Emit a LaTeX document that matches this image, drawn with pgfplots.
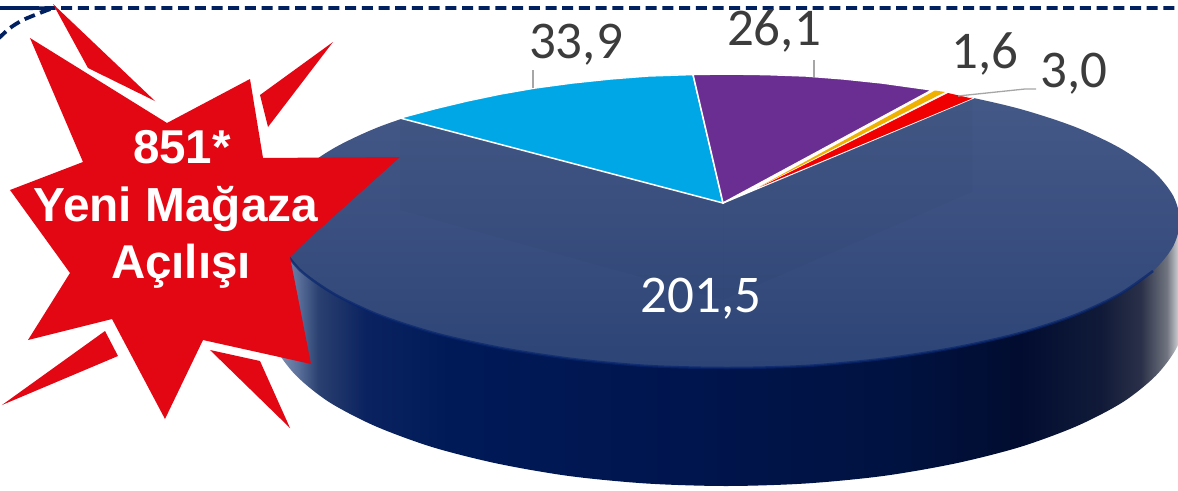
\documentclass[border=0pt]{standalone}
\usepackage{pgfplots}
\pgfplotsset{compat=1.18}
\usepackage{fontspec}
\setmainfont{Carlito}
\newfontfamily\arialf{Liberation Sans}
\definecolor{starred}{HTML}{E30613}
\definecolor{dashblue}{HTML}{002060}
\definecolor{cyanS}{HTML}{00A7E6}
\definecolor{purpleS}{HTML}{6A2D91}
\definecolor{orangeS}{HTML}{F0B000}
\definecolor{redS}{HTML}{F00000}
\definecolor{lab}{HTML}{3C3C3C}
\definecolor{lead}{HTML}{A6A6A6}
\definecolor{sa}{HTML}{8494B5}
\definecolor{sb}{HTML}{5A6F9A}
\definecolor{sc}{HTML}{2A4070}
\definecolor{sd}{HTML}{0A2260}
\definecolor{se}{HTML}{001A58}
\definecolor{sf}{HTML}{00154E}
\definecolor{sg}{HTML}{001240}
\definecolor{sh}{HTML}{020C30}
\definecolor{si}{HTML}{101A38}
\definecolor{sj}{HTML}{2A3048}
\definecolor{sk}{HTML}{70747F}
\definecolor{sl}{HTML}{D8D8DC}
\definecolor{ta}{HTML}{2C4476}
\definecolor{tb}{HTML}{3B5080}
\definecolor{tc}{HTML}{465A88}
\definecolor{rim}{HTML}{08266E}
\pgfdeclarehorizontalshading{sidegrad}{100bp}{
 color(0bp)=(sa); color(25.5bp)=(sa); color(26.7bp)=(sb); color(27.8bp)=(sc);
 color(30.4bp)=(sd); color(34.9bp)=(se); color(47.5bp)=(sf); color(59.5bp)=(sg);
 color(66bp)=(sh); color(70.4bp)=(si); color(72.6bp)=(sj); color(74bp)=(sk);
 color(74.7bp)=(sl); color(100bp)=(sl)}
\pgfdeclareverticalshading{topgrad}{100bp}{
 color(0bp)=(ta); color(25bp)=(ta); color(50bp)=(tb); color(75bp)=(tc); color(100bp)=(tc)}
\begin{document}
\begin{tikzpicture}
\begin{axis}[
  scale only axis, width=1178pt, height=490pt,
  xmin=0, xmax=1178, ymin=0, ymax=490, y dir=reverse,
  hide axis, clip=true]
% dashed frame
\addplot[dashblue, line width=3.8pt, dash pattern=on 11pt off 5.7pt, smooth]
  coordinates {(-2,39) (10,28) (23,20) (40,13) (53,8.5) (70,8) (1178,8)};
% side wall
\addplot[shade, shading=sidegrad, draw=none, smooth]
  coordinates {(268,221) (268,318) (275,347) (296,375.5) (329,402) (375,426) (432,447)
   (497,463.5) (569,476) (646.5,483.5) (726,486) (805.5,483.5) (883,476) (955,463.5)
   (1020,447) (1077,426) (1123,402) (1156,375.5) (1177,347) (1184,318) (1184,221)} -- cycle;
% top face
\addplot[shade, shading=topgrad, draw=none, smooth cycle]
  coordinates {(1180,221) (1173,246.5) (1153,271) (1119,294.5) (1074,315.5) (1018,333.6)
   (953.5,348) (882,359) (806,366) (727,368) (648,366) (572,359) (500.5,348) (436,333.6)
   (380,315.5) (335,294.5) (301,271) (281,246.5) (274,221) (281,195.5) (301,171)
   (335,147.5) (380,126.5) (436,108.4) (500.5,94) (572,83) (648,76) (727,74) (806,76)
   (882,83) (953.5,94) (1018,108.4) (1074,126.5) (1119,147.5) (1153,171) (1173,195.5)};
% rim highlight
\addplot[rim, line width=2.5pt, opacity=0.7, smooth]
  coordinates {(281,246.5) (301,271) (335,294.5) (380,315.5) (436,333.6) (500.5,348)
   (572,359) (648,366) (727,368) (806,366) (882,359) (953.5,348) (1018,333.6) (1074,315.5)
   (1119,294.5) (1153,271)};
% faint inner walls seen through the top
\addplot[fill=black, fill opacity=0.02, draw=none]
  coordinates {(400,118) (400,210) (723,300) (723,203)} -- cycle;
\addplot[fill=black, fill opacity=0.02, draw=none]
  coordinates {(972,99) (972,192) (723,300) (723,203)} -- cycle;
% slices
\addplot[fill=white, draw=white, line width=1.5pt]
  coordinates {(723,203) (932,90) (945,92) (972,98.5)} -- cycle;
\addplot[fill=cyanS, draw=white, line width=1.5pt]
  coordinates {(723,203) (400,118) (436,108.4) (467,101) (500.5,94) (535,88) (572,83)
   (610,79) (648,76) (693,74.5)} -- cycle;
\addplot[fill=purpleS, draw=white, line width=1.5pt]
  coordinates {(723,203) (693,74.5) (727,74) (766.5,74.6) (806,76) (844,79) (882,83) (932,90)} -- cycle;
\addplot[fill=orangeS, draw=none]
  coordinates {(757,188) (935,90.5) (945,92)} -- cycle;
\addplot[fill=redS, draw=none]
  coordinates {(760,187) (948,93) (972,98.5)} -- cycle;
% leaders
\addplot[lead, line width=1.3pt] coordinates {(533,70) (533,88)};
\addplot[lead, line width=1.3pt] coordinates {(814,60) (814,77)};
\addplot[lead, line width=1.3pt] coordinates {(958,96) (1025,89) (1036,89)};
% star
\addplot[fill=starred, draw=none]
  coordinates {(30,38) (167,123) (250,79) (263,158) (400,157) (302,245) (290,257) (311,364)
   (203,340) (165,419) (112,319) (28,340) (70,273) (10,190) (83,162)} -- cycle;
\addplot[fill=starred, draw=none] coordinates {(53,4) (155,101) (88,68)} -- cycle;
\addplot[fill=starred, draw=none] coordinates {(333,42) (268,127) (260,95)} -- cycle;
\addplot[fill=starred, draw=none] coordinates {(2,405) (105,331) (118,356)} -- cycle;
\addplot[fill=starred, draw=none] coordinates {(210,350) (260,361) (290,428)} -- cycle;
% labels
\node[anchor=base, text=lab, font=\fontsize{53}{53}\selectfont, inner sep=0pt] at (axis cs:576,58) {33,9};
\node[anchor=base, text=lab, font=\fontsize{53}{53}\selectfont, inner sep=0pt] at (axis cs:774,45) {26,1};
\node[anchor=base, text=lab, font=\fontsize{53}{53}\selectfont, inner sep=0pt] at (axis cs:985,68) {1,6};
\node[anchor=base, text=lab, font=\fontsize{53}{53}\selectfont, inner sep=0pt] at (axis cs:1074,87) {3,0};
\node[anchor=base, text=white, font=\fontsize{53}{53}\selectfont, inner sep=0pt] at (axis cs:701,312) {201,5};
\node[anchor=base, text=white, font=\arialf\bfseries\fontsize{47.5}{47.5}\selectfont, inner sep=0pt] at (axis cs:182,163) {851*};
\node[anchor=base, text=white, font=\arialf\bfseries\fontsize{47.8}{47.8}\selectfont, inner sep=0pt] at (axis cs:176,221) {Yeni Mağaza};
\node[anchor=base, text=white, font=\arialf\bfseries\fontsize{47.5}{47.5}\selectfont, inner sep=0pt] at (axis cs:181,278) {Açılışı};
\end{axis}
\pgfresetboundingbox
\path[use as bounding box] (0,0) rectangle (1178pt,490pt);
\end{tikzpicture}
\end{document}
